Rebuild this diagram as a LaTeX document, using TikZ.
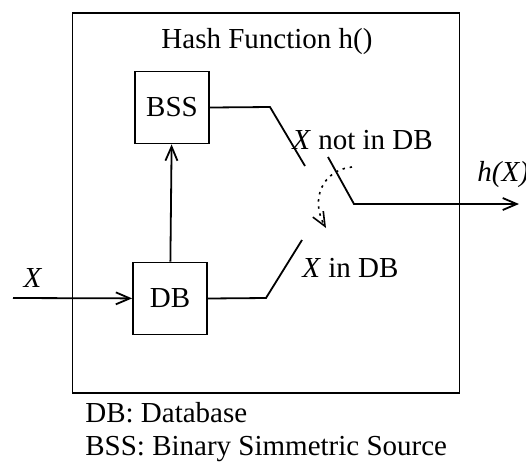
\documentclass[tikz,border=0pt]{standalone}
\usepackage{fontspec}
\setmainfont{Liberation Serif}
\usepackage{tikz}
\usetikzlibrary{arrows.meta}

\tikzset{
  blk/.style={draw,line width=0.9pt,minimum width=37pt,minimum height=36pt,inner sep=0pt},
  wire/.style={line width=0.9pt},
  sig/.style={wire,-{Straight Barb[length=7pt,width=6pt,line width=0.9pt]}},
  lbl/.style={inner sep=0pt}
}

\begin{document}
\begin{tikzpicture}[x=0.5pt,y=-0.5pt,font=\fontsize{14.5}{17}\selectfont]
            \useasboundingbox (0,0) rectangle (526,473);

            % outer frame and title
            \node[draw,line width=0.9pt,minimum width=193.5pt,minimum height=190pt,inner sep=0pt] (hash) at (266,203){};
            \node[lbl] (title) at (267,42){Hash Function h()};

            % blocks
            \node[blk] (bss) at (172,107.5){BSS};
            \node[blk] (db) at (170,298.5){DB};

            % input
            \coordinate (xin) at (13,298);
            \node[lbl] (xlab) at (33,278){\textit{X}};
            \draw[sig] (xin) -- (db);
            \draw[sig] (db) -- (bss);

            % switch contacts
            \coordinate (dbk) at (266,298);
            \coordinate (dbt) at (302,240);
            \coordinate (bssk) at (270,107);
            \coordinate (bsst) at (305,166);
            \draw[wire] (db.east) -- (dbk) -- (dbt);
            \draw[wire] (bss.east) -- (bssk) -- (bsst);
            \node[lbl,anchor=west] (notin) at (292,140){\textit{X} not in DB};
            \node[lbl,anchor=west] (isin) at (302,268){\textit{X} in DB};

            % switch arm and output
            \coordinate (arm) at (328,157);
            \coordinate (armk) at (354,204);
            \coordinate (hout) at (519,204);
            \draw[sig] (arm) -- (armk) -- (hout);
            \node[lbl,anchor=west] (hx) at (477,175){\textit{h(X)}};

            % toggle
            \coordinate (ta) at (352,167);
            \coordinate (tb) at (326,228);
            \draw[line width=0.8pt,dash pattern=on 1.2pt off 2.4pt,-{Straight Barb[length=7pt,width=6pt,line width=0.8pt]}]
              (ta) .. controls (322,170) and (310,200) .. (tb);

            % legend
            \node[lbl,anchor=west] (leg1) at (85,413){DB: Database};
            \node[lbl,anchor=west] (leg2) at (85,449){BSS: Binary Simmetric Source};
          \end{tikzpicture}
\end{document}
